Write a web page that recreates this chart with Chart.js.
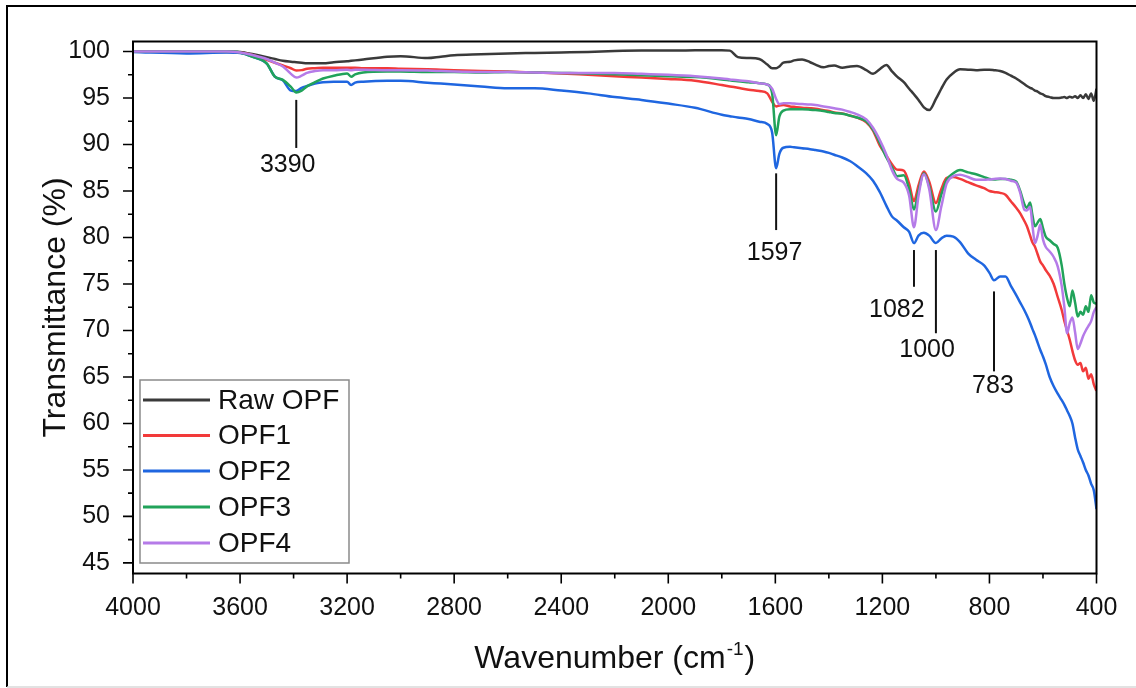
<!DOCTYPE html>
<html><head><meta charset="utf-8">
<script src="https://cdn.jsdelivr.net/npm/chart.js@4.4.1/dist/chart.umd.min.js"></script>
<style>html,body{margin:0;padding:0;background:#fff;}#wrap{position:relative;width:1136px;height:688px;}canvas{display:block;}</style>
</head><body><div id="wrap"><canvas id="c" width="1136" height="688"></canvas></div>
<script>
// ---------- data ----------
const wavenumbers = [
 4000,3800,3650,3600,3550,3500,3470,3440,3410,3390,3370,3350,3320,3290,3250,3200,3185,3170,3140,
 3050,3000,2900,2850,2800,2700,2600,2500,2400,2300,2200,2100,2000,1900,1800,
 1770,1740,1700,1660,1630,1612,1597,1585,1570,1545,1530,1500,1470,1450,1420,1400,1380,1350,1320,1295,
 1260,1235,1210,1185,1165,1145,1120,1100,1082,1065,1045,1025,1000,980,960,935,910,880,850,820,
 800,783,760,740,720,700,685,670,660,648,640,630,620,610,600,590,575,560,545,530,
 520,510,500,490,480,470,460,450,440,430,420,410,400];
const rawOPF = [
 100,100,100,99.95,99.7,99.4,99.2,99.0,98.9,98.85,98.8,98.75,98.75,98.75,98.85,98.95,99.0,99.05,99.15,
 99.45,99.5,99.3,99.45,99.6,99.7,99.8,99.85,99.9,99.95,100.05,100.1,100.1,100.15,100.15,
 100.1,99.4,99.3,99.2,98.6,98.2,98.2,98.4,98.8,98.9,99.05,99.15,98.85,98.6,98.3,98.45,98.5,98.25,98.4,98.45,
 98.0,97.6,98.1,98.55,97.9,97.3,96.7,96.0,95.4,94.8,94.0,93.7,94.9,96.0,97.0,97.7,98.1,98.05,98.0,98.05,
 98.05,98.0,97.9,97.7,97.4,97.1,96.8,96.5,96.3,96.1,96.0,95.8,95.7,95.5,95.4,95.2,95.1,95.0,95.0,95.05,
 95.1,95.0,95.15,95.05,95.2,95.0,95.3,95.0,95.4,94.9,95.5,94.7,96.0];
const opf1 = [
 100,100,99.95,99.9,99.6,99.1,98.8,98.5,98.2,97.95,98.0,98.15,98.2,98.25,98.25,98.25,98.25,98.25,98.2,
 98.2,98.15,98.1,98.05,98.0,97.9,97.85,97.75,97.65,97.5,97.35,97.2,97.05,96.85,96.4,
 96.25,96.1,95.9,95.75,95.5,94.6,94.1,94.2,94.25,94.1,94.05,93.95,93.9,93.85,93.7,93.6,93.45,93.35,93.1,92.9,
 92.4,91.5,89.9,88.8,87.9,87.3,87.2,85.8,83.9,85.6,87.1,86.0,83.7,85.2,86.4,86.5,86.3,85.95,85.6,85.3,
 85.0,84.9,84.8,84.6,83.9,83.2,82.6,81.8,81.2,80.2,79.5,79.0,78.2,77.4,77.0,76.5,75.9,75.0,73.6,72.2,
 71.0,70.0,69.0,67.8,66.8,66.3,66.5,65.6,66.0,64.8,65.3,64.2,63.5];
const opf2 = [
 99.95,99.8,99.9,99.85,99.4,98.7,97.3,96.9,95.8,95.75,96.1,96.3,96.55,96.7,96.75,96.75,96.4,96.65,96.75,
 96.85,96.85,96.65,96.55,96.45,96.25,96.05,96.05,95.8,95.5,95.1,94.8,94.4,93.95,93.2,
 93.05,92.9,92.75,92.45,92.2,91.3,87.45,89.0,89.65,89.75,89.7,89.6,89.5,89.4,89.25,89.1,88.9,88.6,88.2,87.7,
 86.9,86.1,84.9,83.4,82.3,81.8,81.1,80.6,79.4,80.2,80.5,80.2,79.4,79.9,80.2,80.1,79.5,78.3,77.6,77.0,
 76.2,75.4,75.8,75.8,74.8,73.8,73.0,72.2,71.6,70.8,70.2,69.5,68.7,67.9,67.2,66.4,65.0,64.0,63.2,62.5,
 62.0,61.4,60.8,60.0,58.5,57.2,56.5,55.8,55.0,54.4,53.5,52.8,50.8];
const opf3 = [
 100,100,100,99.9,99.4,98.7,97.3,96.95,96.2,95.6,95.8,96.25,96.7,97.1,97.4,97.65,97.3,97.55,97.75,
 97.85,97.85,97.8,97.8,97.8,97.75,97.8,97.75,97.7,97.65,97.55,97.45,97.35,97.25,97.0,
 96.9,96.8,96.7,96.6,96.45,95.5,91.0,93.0,93.65,93.8,93.8,93.8,93.75,93.7,93.6,93.5,93.4,93.3,93.1,92.9,
 92.5,91.6,90.2,88.6,87.6,86.6,86.7,85.2,83.0,85.0,86.9,85.5,82.8,84.6,86.2,86.9,87.25,87.0,86.8,86.5,
 86.3,86.25,86.3,86.3,86.2,86.0,85.0,83.6,83.2,83.75,82.5,81.2,81.6,82.0,81.0,80.1,79.7,79.3,78.9,77.0,
 75.0,73.5,72.6,74.3,73.0,71.5,72.0,71.7,72.6,72.0,73.8,73.0,72.9];
const opf4 = [
 100,100,100,99.9,99.6,99.2,98.8,98.4,97.6,97.2,97.4,97.7,97.9,98.0,98.0,98.05,98.0,98.05,98.05,
 98.0,98.0,97.95,97.9,97.85,97.8,97.8,97.75,97.7,97.7,97.7,97.6,97.5,97.35,97.1,
 97.0,96.9,96.8,96.6,96.45,96.0,94.9,94.35,94.45,94.45,94.4,94.35,94.3,94.25,94.1,94.0,93.9,93.75,93.5,93.25,
 92.7,91.8,90.5,88.9,87.3,86.3,85.9,84.5,81.1,84.5,86.8,85.2,80.8,83.3,85.8,86.6,86.75,86.5,86.2,86.2,
 86.25,86.3,86.35,86.3,86.1,85.9,84.8,83.0,82.9,83.3,81.5,79.4,80.2,81.4,79.8,79.0,78.5,77.9,76.9,74.8,
 72.5,69.7,70.8,71.4,69.8,68.0,68.6,69.4,70.0,70.5,71.0,72.0,72.5];
const seriesNames = ['Raw OPF','OPF1','OPF2','OPF3','OPF4'];
const xTicks = [4000,3600,3200,2800,2400,2000,1600,1200,800,400];
const xMinorTicks = [3800,3400,3000,2600,2200,1800,1400,1000,600];
const yTicks = [45,50,55,60,65,70,75,80,85,90,95,100];
const yMinorTicks = [47.5,52.5,57.5,62.5,67.5,72.5,77.5,82.5,87.5,92.5,97.5];
const peakLabels = ['3390','1597','1082','1000','783'];
const peakWn = [3390,1597,1082,1000,783];

// ---------- styling / layout ----------
const FONT = '"Liberation Sans", Arial, Helvetica, sans-serif';
const colors = ['#3a3a3a','#f23a3a','#1f66e0','#21a35a','#b57be8'];
const annotLayout = {
  lineTop:   [94.8, 86.9, 78.65, 78.65, 74.2],
  lineBottom:[89.63, 80.8, 74.7, 69.7, 65.6],
  labelBase: [87.08, 77.58, 71.47, 67.17, 63.26],
  labelWn:   [3422, 1603, 1146, 1033, 787]
};
const seriesValues = [rawOPF, opf1, opf2, opf3, opf4];

const datasets = seriesValues.map((vals, k) => ({
  label: seriesNames[k],
  data: wavenumbers.map((w, i) => ({x: w, y: vals[i]})),
  borderColor: colors[k],
  backgroundColor: colors[k],
  borderWidth: 2.5,
  pointRadius: 0,
  fill: false,
  cubicInterpolationMode: 'monotone',
  order: 4 - k
}));

const framePlugin = {
  id: 'frameTicks',
  beforeDraw(chart) {
    const c = chart.ctx;
    c.save();
    c.fillStyle = '#fff';
    c.fillRect(0, 0, chart.width, chart.height);
    c.strokeStyle = '#000'; c.lineWidth = 2;
    c.beginPath();
    c.moveTo(7, 687); c.lineTo(7, 6); c.lineTo(1136, 6);
    c.stroke();
    c.strokeStyle = '#d8d8d8'; c.lineWidth = 1.5;
    c.beginPath(); c.moveTo(7, 687); c.lineTo(1136, 687); c.stroke();
    c.restore();
  },
  afterDraw(chart) {
    const c = chart.ctx, a = chart.chartArea, xs = chart.scales.x, ys = chart.scales.y;
    c.save();
    c.strokeStyle = '#000'; c.lineWidth = 2;
    c.strokeRect(a.left, a.top, a.right - a.left, a.bottom - a.top);
    c.lineWidth = 1.6;
    c.beginPath();
    xTicks.forEach(v => { const p = xs.getPixelForValue(v); c.moveTo(p, a.bottom); c.lineTo(p, a.bottom + 10); });
    xMinorTicks.forEach(v => { const p = xs.getPixelForValue(v); c.moveTo(p, a.bottom); c.lineTo(p, a.bottom + 5); });
    yTicks.forEach(v => { const p = ys.getPixelForValue(v); c.moveTo(a.left, p); c.lineTo(a.left - 10, p); });
    yMinorTicks.forEach(v => { const p = ys.getPixelForValue(v); c.moveTo(a.left, p); c.lineTo(a.left - 5, p); });
    c.stroke();
    // x axis title with superscript
    const cx = (a.left + a.right) / 2, base = 668;
    const main = 'Wavenumber (cm', sup = '-1', close = ')';
    c.fillStyle = '#111';
    c.font = '32px ' + FONT;
    const w1 = c.measureText(main).width, w3 = c.measureText(close).width;
    c.font = '19px ' + FONT;
    const w2 = c.measureText(sup).width;
    let x0 = cx - (w1 + w2 + w3 + 2) / 2;
    c.textBaseline = 'alphabetic'; c.textAlign = 'left';
    c.font = '32px ' + FONT; c.fillText(main, x0, base);
    c.font = '19px ' + FONT; c.fillText(sup, x0 + w1 + 1, base - 13);
    c.font = '32px ' + FONT; c.fillText(close, x0 + w1 + w2 + 2, base);
    // legend
    const lx = 140, ly = 380, lw = 209, lh = 183;
    c.fillStyle = '#fff'; c.fillRect(lx, ly, lw, lh);
    c.strokeStyle = '#8a8a8a'; c.lineWidth = 1.5; c.strokeRect(lx, ly, lw, lh);
    const rows = [400, 435.5, 471, 507, 543];
    c.font = '28px ' + FONT; c.textBaseline = 'middle'; c.textAlign = 'left';
    seriesNames.forEach((n, k) => {
      c.strokeStyle = colors[k]; c.lineWidth = 3;
      c.beginPath(); c.moveTo(143, rows[k]); c.lineTo(210, rows[k]); c.stroke();
      c.fillStyle = '#111'; c.fillText(n, 218, rows[k] + 1);
    });
    c.restore();
  },
  afterDatasetsDraw(chart) {
    const c = chart.ctx, xs = chart.scales.x, ys = chart.scales.y;
    c.save();
    c.strokeStyle = '#111'; c.lineWidth = 2;
    c.fillStyle = '#111'; c.font = '25px ' + FONT;
    c.textAlign = 'center'; c.textBaseline = 'alphabetic';
    peakWn.forEach((w, k) => {
      const px = xs.getPixelForValue(w);
      c.beginPath();
      c.moveTo(px, ys.getPixelForValue(annotLayout.lineTop[k]));
      c.lineTo(px, ys.getPixelForValue(annotLayout.lineBottom[k]));
      c.stroke();
      c.fillText(peakLabels[k], xs.getPixelForValue(annotLayout.labelWn[k]), ys.getPixelForValue(annotLayout.labelBase[k]));
    });
    c.restore();
  }
};

new Chart(document.getElementById('c'), {
  type: 'line',
  data: { datasets },
  options: {
    responsive: false, animation: false, devicePixelRatio: 1,
    layout: { padding: { left: 0, top: 41.5, right: 39.5, bottom: 0 } },
    plugins: { legend: { display: false }, tooltip: { enabled: false } },
    scales: {
      x: {
        type: 'linear', reverse: true, min: 400, max: 4000,
        grid: { display: false }, border: { display: false },
        afterBuildTicks: s => { s.ticks = xTicks.map(v => ({ value: v })); },
        afterFit: s => { s.height = 688 - 573.5; },
        ticks: { font: { family: FONT, size: 25 }, color: '#111', padding: 12, maxRotation: 0, autoSkip: false,
                 callback: v => String(v) }
      },
      y: {
        type: 'linear', min: 43.86, max: 101.08,
        grid: { display: false }, border: { display: false },
        afterBuildTicks: s => { s.ticks = yTicks.map(v => ({ value: v })); },
        afterFit: s => { s.width = 133; },
        ticks: { font: { family: FONT, size: 25 }, color: '#111', padding: 15, autoSkip: false,
                 callback: v => String(v) },
        title: { display: true, text: 'Transmittance (%)', color: '#111', font: { family: FONT, size: 32 }, padding: { top: 37, bottom: 0 } }
      }
    }
  },
  plugins: [framePlugin]
});
</script></body></html>
